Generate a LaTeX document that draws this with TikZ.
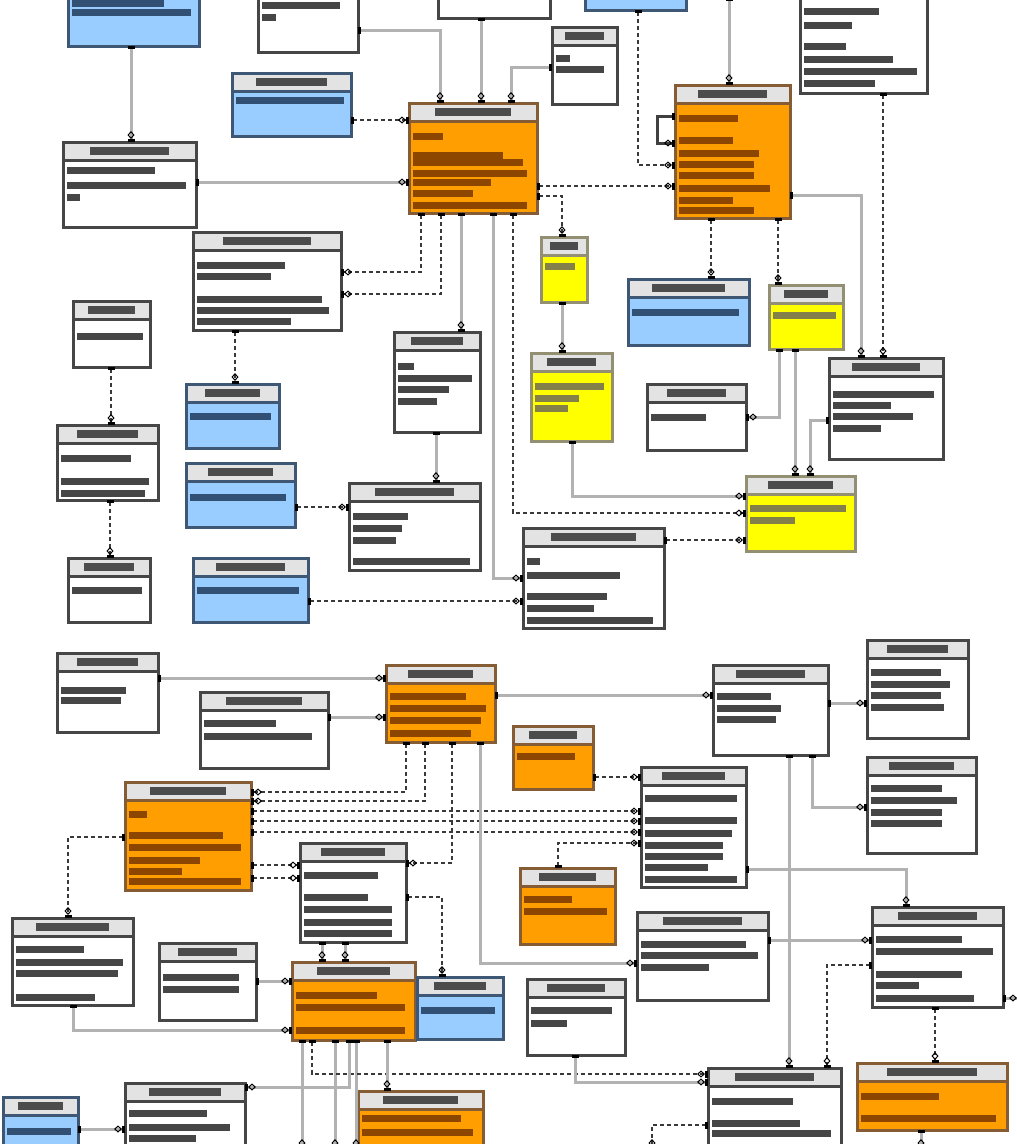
\documentclass[tikz,border=0pt]{standalone}
\usepackage{tikz}
\usetikzlibrary{arrows.meta,calc}

\definecolor{tblblue}{RGB}{153,204,255}
\definecolor{tblorange}{RGB}{255,158,0}
\definecolor{tblyellow}{RGB}{255,255,0}
\definecolor{barblue}{RGB}{50,80,115}
\definecolor{barbrown}{RGB}{140,70,0}

% one table: name, scheme (w/b/o/y), x1, y1, x2, y2, rows (offset/width)
\newcommand{\ertbl}[7]{%
  \node[#2box, minimum width={#5-#3}, minimum height={#6-#4}, anchor=north west] (#1) at (#3,#4) {};
  \fill[hdr] (#3,#4) rectangle (#5,{#4+18});
  \fill[ttl] ({#3+0.2*(#5-#3)},{#4+5}) rectangle ({#5-0.2*(#5-#3)},{#4+13});
  \foreach \dy/\w in {#7}
    \fill[#2bar] ({#3+4},{#4+\dy}) rectangle ({#3+4+\w*(#5-#3-8)},{#4+\dy+7});
  \draw[#2edge] (#3,{#4+18}) -- (#5,{#4+18});
  \draw[#2edge] (#1.north west) rectangle (#1.south east);
}

\begin{document}
\begin{tikzpicture}[x=1pt, y=-1pt]
  \tikzset{
    tbl/.style={inner sep=0pt, outer sep=0pt},
    wbox/.style={tbl, fill=white}, wbar/.style={fill=gray!55!black}, wedge/.style={draw=gray!55!black, line width=3pt},
    bbox/.style={tbl, fill=tblblue}, bbar/.style={fill=barblue}, bedge/.style={draw=barblue!85!gray, line width=3pt},
    obox/.style={tbl, fill=tblorange}, obar/.style={fill=barbrown}, oedge/.style={draw=orange!40!black!80, line width=3pt},
    ybox/.style={tbl, fill=tblyellow}, ybar/.style={fill=yellow!45!black}, yedge/.style={draw=yellow!30!black!70, line width=3pt},
    hdr/.style={fill=gray!22},
    ttl/.style={fill=gray!60!black},
    rel/.style={draw=gray!60, line width=3pt,
      {Square[length=3pt,width=7pt,color=black]}-{Diamond[open,length=8pt,width=7pt,line width=1pt,color=black] Square[length=3pt,width=7pt,color=black]}},
    opt/.style={rel, draw=gray!45!black, line width=2.2pt, dash pattern=on 4pt off 3pt}
  }
  \useasboundingbox (0,0) rectangle (1017,1144);
  \fill[white] (0,0) rectangle (1017,1144);

  % upper group
  \ertbl{t1}{b}{68}{-30}{199}{46}{30/.75, 39/.97}
  \ertbl{t2}{w}{258}{-30}{358}{52}{32/.85, 44/.15}
  \ertbl{t3}{w}{438}{-30}{550}{18}{5/.5}
  \ertbl{t4}{b}{585}{-30}{686}{10}{5/.5}
  \ertbl{t5}{w}{800}{-30}{927}{93}{38/.63, 52/.4, 73/.35, 86/.75, 98/.95, 110/.6}
  \ertbl{t6}{w}{552}{27}{617}{104}{28/.25, 39/.85}
  \ertbl{t7}{b}{232}{73}{351}{136}{24/.97}
  \ertbl{t8}{o}{409}{103}{537}{213}{30/.25, 49/.75, 56/.92, 67/.95, 76/.65, 87/.5, 99/.95}
  \ertbl{t9}{o}{675}{85}{790}{218}{30/.55, 52/.5, 65/.75, 76/.7, 87/.7, 100/.85, 112/.5, 122/.7}
  \ertbl{t10}{w}{63}{142}{196}{227}{25/.7, 40/.95, 52/.1}
  \ertbl{t11}{w}{193}{232}{341}{330}{30/.63, 41/.53, 64/.89, 75/.94, 86/.67}
  \ertbl{t12}{y}{541}{237}{587}{302}{26/.8}
  \ertbl{t13}{b}{628}{279}{749}{345}{30/.95}
  \ertbl{t14}{y}{769}{285}{843}{349}{27/.95}
  \ertbl{t15}{w}{73}{301}{150}{367}{32/.95}
  \ertbl{t16}{b}{186}{384}{279}{448}{29/.95}
  \ertbl{t17}{w}{394}{332}{480}{432}{31/.2, 43/.95, 54/.65, 66/.5}
  \ertbl{t18}{y}{531}{353}{612}{441}{30/.95, 42/.6, 52/.45}
  \ertbl{t19}{w}{647}{384}{746}{450}{30/.6}
  \ertbl{t20}{w}{829}{358}{943}{459}{33/.95, 44/.55, 55/.75, 67/.45}
  \ertbl{t21}{w}{57}{425}{158}{500}{30/.75, 53/.95, 65/.9}
  \ertbl{t22}{b}{186}{463}{295}{527}{31/.95}
  \ertbl{t23}{w}{349}{483}{480}{570}{30/.45, 42/.4, 54/.35, 75/.95}
  \ertbl{t24}{y}{746}{476}{855}{551}{29/.95, 41/.45}
  \ertbl{t25}{w}{68}{558}{150}{622}{29/.95}
  \ertbl{t26}{b}{193}{558}{308}{622}{29/.95}
  \ertbl{t27}{w}{523}{528}{664}{628}{30/.1, 44/.7, 65/.6, 77/.5, 89/.95}

  % lower group
  \ertbl{t28}{w}{57}{653}{158}{732}{34/.7, 44/.65}
  \ertbl{t29}{w}{200}{692}{328}{768}{28/.6, 41/.9}
  \ertbl{t30}{o}{386}{665}{495}{742}{28/.75, 40/.95, 52/.9, 65/.8}
  \ertbl{t31}{w}{713}{665}{828}{755}{28/.5, 40/.6, 51/.55}
  \ertbl{t32}{w}{867}{640}{968}{738}{29/.75, 41/.85, 52/.75, 64/.78}
  \ertbl{t33}{o}{513}{726}{593}{789}{27/.8}
  \ertbl{t34}{w}{641}{767}{746}{887}{28/.95, 50/.95, 63/.9, 75/.8, 86/.8, 97/.65, 109/.95}
  \ertbl{t35}{w}{867}{757}{976}{853}{28/.7, 40/.85, 52/.7, 63/.7}
  \ertbl{t36}{o}{125}{782}{251}{890}{29/.15, 50/.8, 62/.95, 75/.6, 86/.45, 96/.95}
  \ertbl{t37}{w}{300}{843}{406}{942}{29/.75, 51/.65, 63/.9, 76/.9, 87/.9}
  \ertbl{t38}{o}{520}{868}{615}{944}{28/.55, 40/.95}
  \ertbl{t39}{w}{637}{912}{768}{1000}{29/.85, 40/.95, 52/.55}
  \ertbl{t40}{w}{872}{907}{1003}{1007}{29/.7, 41/.95, 64/.7, 75/.35, 88/.8}
  \ertbl{t41}{w}{12}{918}{133}{1005}{28/.6, 41/.95, 52/.9, 76/.7}
  \ertbl{t42}{w}{159}{943}{256}{1020}{31/.85, 43/.85}
  \ertbl{t43}{o}{292}{962}{415}{1040}{30/.7, 42/.95, 65/.95}
  \ertbl{t44}{b}{417}{977}{503}{1039}{30/.95}
  \ertbl{t45}{w}{527}{979}{625}{1055}{28/.9, 41/.4}
  \ertbl{t46}{w}{708}{1068}{841}{1160}{30/.65, 52/.7, 62/.95}
  \ertbl{t47}{o}{857}{1063}{1007}{1130}{30/.55, 52/.95}
  \ertbl{t48}{b}{3}{1097}{78}{1160}{31/.95}
  \ertbl{t49}{w}{125}{1083}{245}{1160}{27/.7, 41/.9, 52/.6}
  \ertbl{t50}{o}{358}{1091}{483}{1160}{24/.85, 38/.95}

  % free ends
  \coordinate (topin) at (729,-2);
  \coordinate (eastout) at (1020,998);
  \coordinate (downa) at (302,1150);
  \coordinate (downb) at (335,1150);
  \coordinate (downc) at (356,1150);
  \coordinate (downd) at (921,1150);
  \coordinate (downe) at (652,1150);

  % upper links
  \draw[rel] (t1.south -| 131,0) -- (t10.north -| 131,0);
  \draw[rel] (t2.east |- 0,30) -| (t8.north -| 440,0);
  \draw[rel] (t3.south -| 481,0) -- (t8.north -| 481,0);
  \draw[rel] (t6.west |- 0,67) -| (t8.north -| 511,0);
  \draw[opt] (t7.east |- 0,120) -- (t8.west |- 0,120);
  \draw[rel] (t10.east |- 0,182) -- (t8.west |- 0,182);
  \draw[opt] (t8.south -| 421,0) |- (t11.east |- 0,272);
  \draw[opt] (t8.south -| 441,0) |- (t11.east |- 0,294);
  \draw[rel] (t8.south -| 461,0) -- (t17.north -| 461,0);
  \draw[rel] (t8.south -| 493,0) |- (t27.west |- 0,578);
  \draw[opt] (t8.south -| 513,0) |- (t24.west |- 0,513);
  \draw[opt] (t8.east |- 0,186) -- (t9.west |- 0,186);
  \draw[opt] (t8.east |- 0,196) -| (t12.north -| 562,0);
  \draw[opt] (t4.south -| 638,0) |- (t9.west |- 0,165);
  \draw[rel, draw=gray!50!black] (t9.west |- 0,116) -- ++(-18,0) |- (t9.west |- 0,143);
  \draw[rel] (topin) -- (t9.north -| 729,0);
  \draw[opt] (t5.south -| 883,0) -- (t20.north -| 883,0);
  \draw[rel] (t9.east |- 0,195) -| (t20.north -| 861,0);
  \draw[opt] (t9.south -| 711,0) -- (t13.north -| 711,0);
  \draw[opt] (t9.south -| 778,0) -- (t14.north -| 778,0);
  \draw[rel] (t12.south -| 562,0) -- (t18.north -| 562,0);
  \draw[rel] (t18.south -| 572,0) |- (t24.west |- 0,496);
  \draw[rel] (t14.south -| 779,0) |- (t19.east |- 0,417);
  \draw[rel] (t14.south -| 795,0) -- (t24.north -| 795,0);
  \draw[rel] (t20.west |- 0,420) -| (t24.north -| 810,0);
  \draw[opt] (t27.east |- 0,540) -- (t24.west |- 0,540);
  \draw[opt] (t26.east |- 0,601) -- (t27.west |- 0,601);
  \draw[opt] (t15.south -| 111,0) -- (t21.north -| 111,0);
  \draw[opt] (t21.south -| 110,0) -- (t25.north -| 110,0);
  \draw[opt] (t11.south -| 235,0) -- (t16.north -| 235,0);
  \draw[rel] (t17.south -| 436,0) -- (t23.north -| 436,0);
  \draw[opt] (t22.east |- 0,507) -- (t23.west |- 0,507);

  % lower links
  \draw[rel] (t28.east |- 0,678) -- (t30.west |- 0,678);
  \draw[rel] (t29.east |- 0,717) -- (t30.west |- 0,717);
  \draw[rel] (t30.east |- 0,695) -- (t31.west |- 0,695);
  \draw[rel] (t31.east |- 0,703) -- (t32.west |- 0,703);
  \draw[rel] (t31.south -| 812,0) |- (t35.west |- 0,807);
  \draw[rel] (t31.south -| 789,0) -- (t46.north -| 789,0);
  \draw[opt] (t33.east |- 0,777) -- (t34.west |- 0,777);
  \draw[opt] (t30.south -| 406,0) |- (t36.east |- 0,792);
  \draw[opt] (t30.south -| 425,0) |- (t36.east |- 0,801);
  \draw[opt] (t30.south -| 452,0) |- (t37.east |- 0,863);
  \draw[opt] (t36.east |- 0,811) -- (t34.west |- 0,811);
  \draw[opt] (t36.east |- 0,821) -- (t34.west |- 0,821);
  \draw[opt] (t36.east |- 0,832) -- (t34.west |- 0,832);
  \draw[opt] (t38.north -| 558,0) |- (t34.west |- 0,843);
  \draw[rel] (t30.south -| 480,0) |- (t39.west |- 0,963);
  \draw[opt] (t36.west |- 0,837) -| (t41.north -| 68,0);
  \draw[opt] (t36.east |- 0,865) -- (t37.west |- 0,865);
  \draw[opt] (t36.east |- 0,878) -- (t37.west |- 0,878);
  \draw[opt] (t37.east |- 0,897) -| (t44.north -| 442,0);
  \draw[rel] (t37.south -| 322,0) -- (t43.north -| 322,0);
  \draw[rel] (t37.south -| 345,0) -- (t43.north -| 345,0);
  \draw[rel] (t42.east |- 0,981) -- (t43.west |- 0,981);
  \draw[rel] (t41.south -| 73,0) |- (t43.west |- 0,1030);
  \draw[rel] (t43.south -| 302,0) -- (downa);
  \draw[rel] (t43.south -| 335,0) -- (downb);
  \draw[rel] (t43.south -| 356,0) -- (downc);
  \draw[opt] (t43.south -| 312,0) |- (t46.west |- 0,1074);
  \draw[rel] (t45.south -| 575,0) |- (t46.west |- 0,1082);
  \draw[rel] (t43.south -| 349,0) |- (t49.east |- 0,1087);
  \draw[rel] (t43.south -| 387,0) -- (t50.north -| 387,0);
  \draw[rel] (t48.east |- 0,1129) -- (t49.west |- 0,1129);
  \draw[rel] (t39.east |- 0,940) -- (t40.west |- 0,940);
  \draw[rel] (t34.east |- 0,869) -| (t40.north -| 906,0);
  \draw[opt] (t40.west |- 0,965) -| (t46.north -| 827,0);
  \draw[opt] (t40.south -| 935,0) -- (t47.north -| 935,0);
  \draw[rel] (t40.east |- 0,998) -- (eastout);
  \draw[rel] (t47.south -| 921,0) -- (downd);
  \draw[opt] (t46.west |- 0,1125) -| (downe);
\end{tikzpicture}
\end{document}
